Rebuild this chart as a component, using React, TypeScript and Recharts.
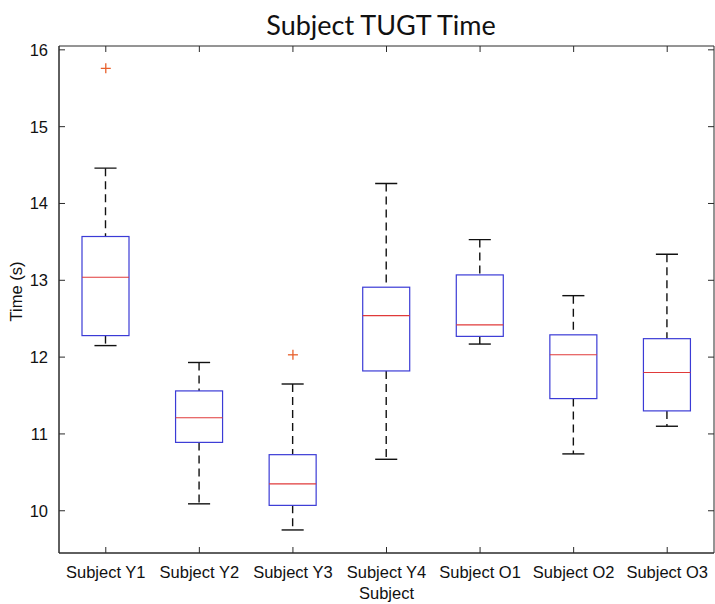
import { ComposedChart, Bar, Scatter, XAxis, YAxis, ReferenceArea } from "recharts";

const categories = ["Subject Y1", "Subject Y2", "Subject Y3", "Subject Y4", "Subject O1", "Subject O2", "Subject O3"];
const whiskerLow = [12.15, 10.09, 9.75, 10.67, 12.17, 10.74, 11.1];
const q1 = [12.28, 10.89, 10.07, 11.82, 12.27, 11.46, 11.3];
const median = [13.04, 11.21, 10.35, 12.54, 12.42, 12.03, 11.8];
const q3 = [13.57, 11.56, 10.73, 12.91, 13.07, 12.29, 12.24];
const whiskerHigh = [14.46, 11.93, 11.65, 14.26, 13.53, 12.8, 13.34];
const outliers: (number | null)[] = [15.76, null, 12.03, null, null, null, null];
const yTicks = [10, 11, 12, 13, 14, 15, 16];
const yDomain = [9.45, 16.05];

const data = categories.map((name, i) => ({
  name,
  range: [whiskerLow[i], whiskerHigh[i]],
  q1: q1[i],
  median: median[i],
  q3: q3[i],
  outlier: outliers[i],
}));

const PLOT_LEFT = 59;
const PLOT_RIGHT = 714;
const PLOT_TOP = 46;
const PLOT_BOTTOM = 553;
const AXIS = "#2b2b2b";
const FONT = "'Liberation Sans', Arial, sans-serif";

const BoxShape = (props: any) => {
  const { x, y, width, height, payload } = props;
  const [lo, hi] = payload.range;
  const top = Math.min(y, y + height);
  const span = Math.abs(height);
  const py = (v: number) => top + ((hi - v) / (hi - lo)) * span;
  const cx = x + width / 2;
  const cap = width * 0.47;
  const yq1 = py(payload.q1);
  const yq3 = py(payload.q3);
  const ymed = py(payload.median);
  return (
    <g>
      <line x1={cx} x2={cx} y1={py(hi)} y2={yq3} stroke="#111" strokeWidth={1.4} strokeDasharray="8 5" />
      <line x1={cx} x2={cx} y1={yq1} y2={py(lo)} stroke="#111" strokeWidth={1.4} strokeDasharray="8 5" />
      <line x1={cx - cap / 2} x2={cx + cap / 2} y1={py(hi)} y2={py(hi)} stroke="#111" strokeWidth={1.4} />
      <line x1={cx - cap / 2} x2={cx + cap / 2} y1={py(lo)} y2={py(lo)} stroke="#111" strokeWidth={1.4} />
      <rect x={x} y={yq3} width={width} height={yq1 - yq3} fill="#fff" stroke="#3b3bd6" strokeWidth={1.2} />
      <line x1={x} x2={x + width} y1={ymed} y2={ymed} stroke="#e03a3a" strokeWidth={1.1} />
    </g>
  );
};

const PlusShape = (props: any) => {
  const { cx, cy, payload } = props;
  if (payload == null || payload.outlier == null || !isFinite(cy)) return <g />;
  return (
    <g stroke="#e8602c" strokeWidth={1.3}>
      <line x1={cx - 5} x2={cx + 5} y1={cy} y2={cy} />
      <line x1={cx} x2={cx} y1={cy - 5} y2={cy + 5} />
    </g>
  );
};

const XTick = (props: any) => {
  const { x, payload } = props;
  return (
    <g>
      <line x1={x} x2={x} y1={PLOT_BOTTOM} y2={PLOT_BOTTOM - 6} stroke={AXIS} />
      <line x1={x} x2={x} y1={PLOT_TOP} y2={PLOT_TOP + 6} stroke={AXIS} />
      <text x={x} y={PLOT_BOTTOM + 25} textAnchor="middle" fontSize={16.5} fontFamily={FONT} fill="#111">
        {payload.value}
      </text>
    </g>
  );
};

const YTick = (props: any) => {
  const { y, payload } = props;
  return (
    <g>
      <line x1={PLOT_LEFT} x2={PLOT_LEFT + 6} y1={y} y2={y} stroke={AXIS} />
      <line x1={PLOT_RIGHT} x2={PLOT_RIGHT - 6} y1={y} y2={y} stroke={AXIS} />
      <text x={PLOT_LEFT - 11} y={y + 6} textAnchor="end" fontSize={16.5} fontFamily={FONT} fill="#111">
        {payload.value}
      </text>
    </g>
  );
};

export default function App() {
  return (
    <div style={{ position: "absolute", left: 0, top: 0, width: 715, height: 604, background: "#fff" }}>
      <div
        style={{
          position: "absolute",
          left: 0,
          width: 762,
          top: 8,
          textAlign: "center",
          fontFamily: "Lato, 'Open Sans', sans-serif",
          fontSize: 27,
          color: "#111",
        }}
      >
        Subject TUGT Time
      </div>
      <ComposedChart
        width={715}
        height={604}
        data={data}
        margin={{ top: PLOT_TOP, right: 715 - PLOT_RIGHT, bottom: 0, left: 0 }}
      >
        <XAxis
          dataKey="name"
          height={604 - PLOT_BOTTOM}
          axisLine={{ stroke: AXIS }}
          tickLine={false}
          tick={<XTick />}
          interval={0}
          label={{ value: "Subject", position: "insideBottom", offset: 5, fontSize: 16.5, fontFamily: FONT, fill: "#111" }}
        />
        <YAxis
          type="number"
          domain={yDomain}
          ticks={yTicks}
          allowDataOverflow
          width={PLOT_LEFT}
          axisLine={{ stroke: AXIS }}
          tickLine={false}
          tick={<YTick />}
          label={{
            value: "Time (s)",
            angle: -90,
            position: "insideLeft",
            offset: 16,
            dy: 22,
            fontSize: 16.5,
            fontFamily: FONT,
            fill: "#111",
          }}
        />
        <ReferenceArea y1={yDomain[0]} y2={yDomain[1]} fill="none" stroke={AXIS} strokeWidth={1} ifOverflow="visible" />
        <Bar dataKey="range" barSize={47} shape={<BoxShape />} isAnimationActive={false} />
        <Scatter dataKey="outlier" shape={<PlusShape />} isAnimationActive={false} />
      </ComposedChart>
    </div>
  );
}
